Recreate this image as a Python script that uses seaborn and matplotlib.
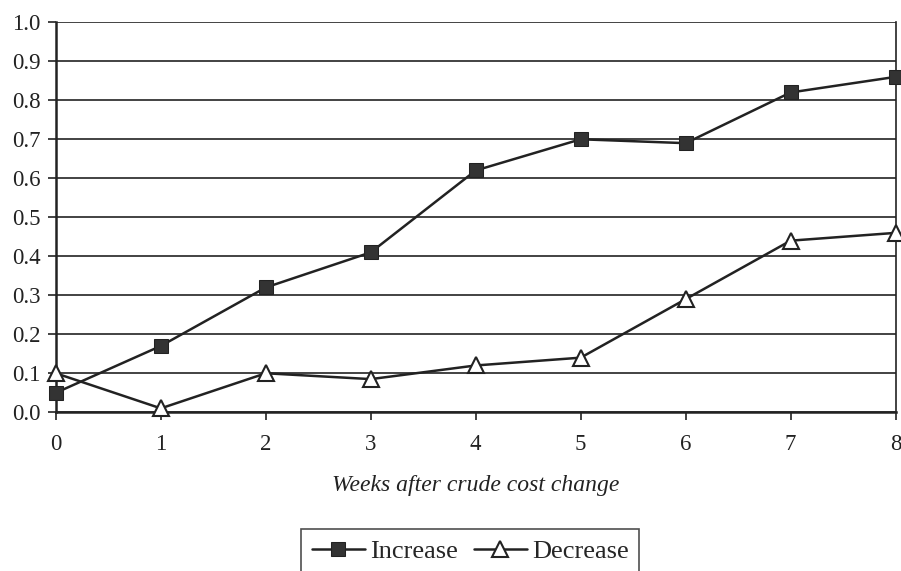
import matplotlib
matplotlib.use("Agg")
import matplotlib.pyplot as plt
import seaborn as sns
import pandas as pd

weeks = [0, 1, 2, 3, 4, 5, 6, 7, 8]
increase = [0.05, 0.17, 0.32, 0.41, 0.62, 0.70, 0.69, 0.82, 0.86]
decrease = [0.10, 0.01, 0.10, 0.085, 0.12, 0.14, 0.29, 0.44, 0.46]
y_ticks = [0.0, 0.1, 0.2, 0.3, 0.4, 0.5, 0.6, 0.7, 0.8, 0.9, 1.0]
x_label = "Weeks after crude cost change"

sns.set_theme(style="white")
plt.rcParams['font.family'] = ['Liberation Serif', 'DejaVu Serif']

df_inc = pd.DataFrame({"week": weeks, "value": increase})
df_dec = pd.DataFrame({"week": weeks, "value": decrease})

fig = plt.figure(figsize=(9.01, 5.71), dpi=100)
ax = fig.add_axes([0.062, 0.278, 0.932, 0.683])

for y in y_ticks:
    ax.axhline(y, color="#222222", lw=1.2, zorder=1)

sns.lineplot(data=df_inc, x="week", y="value", ax=ax, color="#222222", lw=1.8,
             marker="s", markersize=10, markerfacecolor="#333333",
             markeredgecolor="#222222", label="Increase", zorder=3, clip_on=False)
sns.lineplot(data=df_dec, x="week", y="value", ax=ax, color="#222222", lw=1.8,
             marker="^", markersize=11, markerfacecolor="white",
             markeredgecolor="#222222", markeredgewidth=1.5,
             label="Decrease", zorder=3, clip_on=False)

ax.set_xlim(0, 8)
ax.set_ylim(0, 1.0)
ax.set_xticks(weeks)
ax.set_yticks(y_ticks)
ax.set_yticklabels([f"{v:.1f}" for v in y_ticks])
ax.tick_params(axis="both", labelsize=16.5, colors="#222222", length=6, width=1.2,
               direction="out", bottom=True, left=True)
ax.tick_params(axis="x", pad=10)
ax.tick_params(axis="y", pad=5)
for s in ["left", "bottom", "right"]:
    ax.spines[s].set_visible(True)
    ax.spines[s].set_color("#222222")
ax.spines["left"].set_linewidth(1.8)
ax.spines["bottom"].set_linewidth(1.8)
ax.spines["right"].set_linewidth(1.2)
ax.spines["top"].set_visible(False)

ax.set_xlabel(x_label, fontsize=17, style="italic", color="#222222", labelpad=14)
ax.set_ylabel("")
ax.legend_.remove()

h, l = ax.get_legend_handles_labels()
leg = fig.legend(h, l, loc="upper center", bbox_to_anchor=(0.522, 0.073), ncol=2,
                 frameon=True, fancybox=False, fontsize=19, handlelength=2.0,
                 handletextpad=0.2, columnspacing=0.6, borderpad=0.4,
                 borderaxespad=0)
leg.get_frame().set_edgecolor("#222222")
leg.get_frame().set_linewidth(1.2)

fig.savefig("out.png", dpi=100)
